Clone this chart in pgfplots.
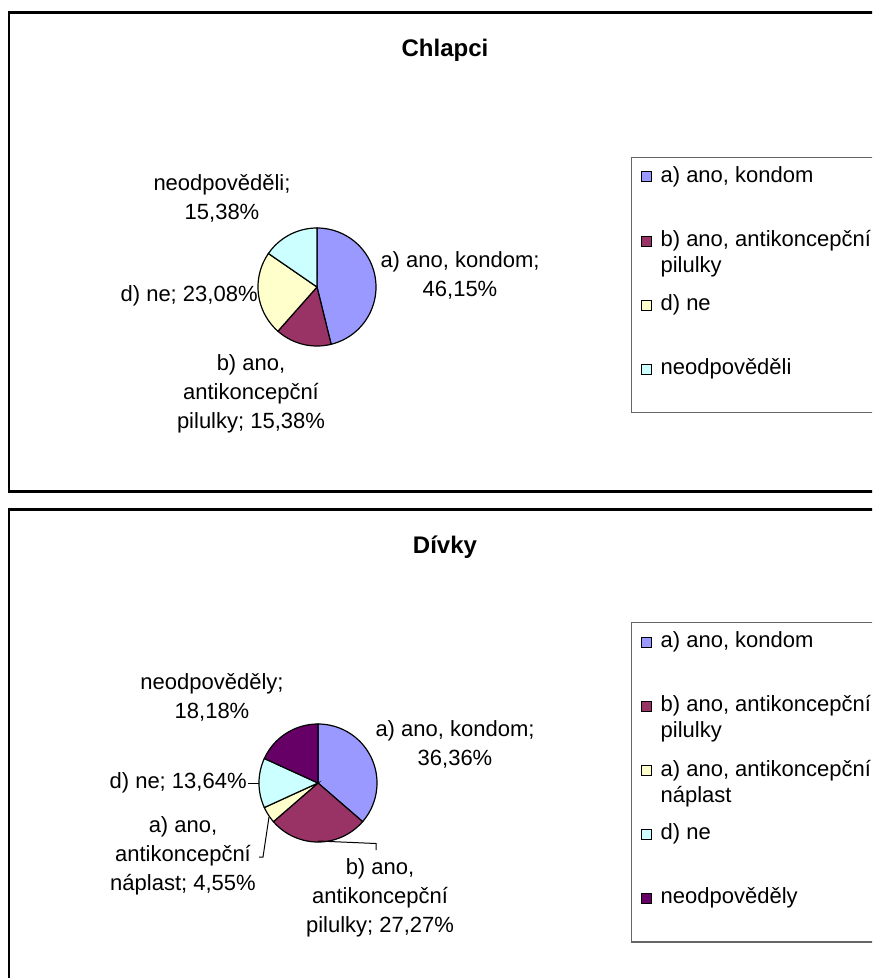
\documentclass[border=0pt]{standalone}
\usepackage{pgfplots}
\pgfplotsset{compat=1.18}
\usepackage{fontspec}
\setmainfont{Liberation Sans}
\definecolor{cA}{HTML}{9999FF}
\definecolor{cB}{HTML}{993366}
\definecolor{cC}{HTML}{FFFFCC}
\definecolor{cD}{HTML}{CCFFFF}
\definecolor{cE}{HTML}{660066}
\newcommand\lbl{\fontsize{11}{14.5}\selectfont}
\newcommand\ttl{\fontsize{12}{14}\selectfont\bfseries}
% #1 cumulative start (%), #2 share (%), #3 colour; Excel pie: starts at 12 o'clock, clockwise
\newcommand\slice[3]{\addplot[fill=#3,draw=black,line width=0.6pt,domain=90-3.6*(#1+#2):90-3.6*(#1),samples=90] ({cos(x)},{sin(x)}) -- (axis cs:0,0) -- cycle;}
\newcommand\lgentry[2][23pt]{\parbox[t]{130pt}{\baselineskip=13pt #2}\rule[-#1]{0pt}{10pt}}
\pgfplotsset{piestyle/.style={width=59pt,height=59pt,scale only axis,
  xmin=-1,xmax=1,ymin=-1,ymax=1,hide axis,clip=false,
  legend image code/.code={\draw[##1,line width=0.5pt] (0pt,0.3pt) rectangle (5pt,5.3pt);},
  legend style={anchor=north west,draw=black!60,line width=0.6pt,inner xsep=4.5pt,inner ysep=4pt,
    cells={anchor=base west},nodes={inner xsep=4.5pt,inner ysep=0.5pt,text depth=},font=\lbl}}}
\begin{document}
\begin{tikzpicture}[x=0.5pt,y=-0.5pt]
\path[use as bounding box] (0,0) rectangle (872,978);
\clip (0,0) rectangle (872,978);
\draw[line width=1.2pt] (9,12.7) rectangle (900,491.5);
\draw[line width=1.2pt] (9,509.3) rectangle (900,1000);
% ---------- Chlapci ----------
\node[font=\ttl,anchor=base] at (445,57) {Chlapci};
\begin{axis}[piestyle,at={(158.5pt,-143.5pt)},anchor=center,legend style={at={(3.161,1.602)}}]
\slice{0}{46.15}{cA}\addlegendentry{\lgentry{a) ano, kondom}}
\slice{46.15}{15.38}{cB}\addlegendentry{\lgentry{b) ano, antikoncepční\\pilulky}}
\slice{61.53}{23.08}{cC}\addlegendentry{\lgentry{d) ne}}
\slice{84.61}{15.38}{cD}\addlegendentry{\lgentry[14.5pt]{neodpověděli}}
\end{axis}
\node[font=\lbl,align=center] at (222,198) {neodpověděli;\\15,38\%};
\node[font=\lbl,align=center] at (460,275) {a) ano, kondom;\\46,15\%};
\node[font=\lbl,anchor=east,inner sep=0pt] at (258,296) {d) ne; 23,08\%};
\node[font=\lbl,align=center] at (251,394) {b) ano,\\antikoncepční\\pilulky; 15,38\%};
% ---------- Dívky ----------
\node[font=\ttl,anchor=base] at (445,553) {Dívky};
\begin{axis}[piestyle,at={(159pt,-391.5pt)},anchor=center,legend style={at={(3.153,1.864)}}]
\slice{0}{36.36}{cA}\addlegendentry{\lgentry{a) ano, kondom}}
\slice{36.36}{27.27}{cB}\addlegendentry{\lgentry{b) ano, antikoncepční\\pilulky}}
\slice{63.63}{4.55}{cC}\addlegendentry{\lgentry{a) ano, antikoncepční\\náplast}}
\slice{68.18}{13.64}{cD}\addlegendentry{\lgentry{d) ne}}
\slice{81.82}{18.18}{cE}\addlegendentry{\lgentry[14.5pt]{neodpověděly}}
\end{axis}
\node[font=\lbl,align=center] at (212,697.5) {neodpověděly;\\18,18\%};
\node[font=\lbl,align=center] at (455,744) {a) ano, kondom;\\36,36\%};
\node[font=\lbl,anchor=east,inner sep=0pt] at (247,783) {d) ne; 13,64\%};
\node[font=\lbl,align=center] at (183,856) {a) ano,\\antikoncepční\\náplast; 4,55\%};
\node[font=\lbl,align=center] at (380,898) {b) ano,\\antikoncepční\\pilulky; 27,27\%};
\draw[line width=0.5pt] (248,783)--(259,783);
\draw[line width=0.5pt] (269,817)--(263,857)--(259,857);
\draw[line width=0.5pt] (318,841)--(376,843.5)--(376,850);
\end{tikzpicture}
\end{document}
